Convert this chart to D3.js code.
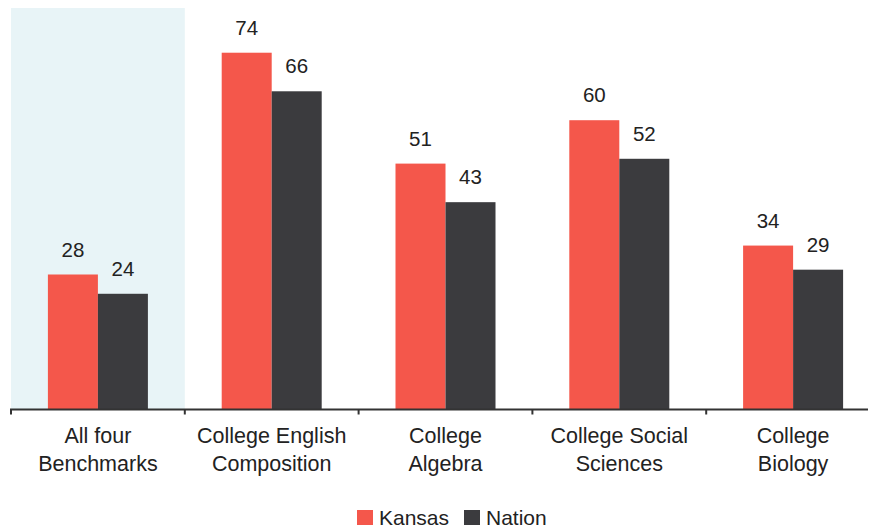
<!DOCTYPE html>
<html><head><meta charset="utf-8">
<script src="https://cdn.jsdelivr.net/npm/d3@7"></script>
<style>body{margin:0;background:#fff;} text{font-family:"Liberation Sans",Arial,sans-serif;fill:#222;}</style>
</head><body>
<svg id="c" width="874" height="531"></svg>
<script>
const categories = [["All four","Benchmarks"],["College English","Composition"],["College","Algebra"],["College Social","Sciences"],["College","Biology"]];
const seriesNames = ["Kansas","Nation"];
const kansas = [28,74,51,60,34];
const nation = [24,66,43,52,29];
const colors = {"Kansas":"#f4574b","Nation":"#3b3b3e"};

const svg = d3.select("#c");
const baseY = 409.5;
const x = d3.scaleBand().domain(d3.range(categories.length)).range([11, 880]);
const y = d3.scaleLinear().domain([0, 84]).range([baseY, 4.5]);
const inner = d3.scaleBand().domain(seriesNames).range([0, 100]);
const groupOff = (x.bandwidth() - 100) / 2;

// highlight first category
svg.append("rect").attr("x", x(0)).attr("y", 8).attr("width", x.bandwidth()).attr("height", baseY - 8).attr("fill", "#e8f4f7");

const data = categories.map((c,i)=>({i, Kansas:kansas[i], Nation:nation[i]}));
const g = svg.append("g");
seriesNames.forEach(s=>{
  g.selectAll(".b"+s).data(data).enter().append("rect")
    .attr("x", d=>x(d.i)+groupOff+inner(s)).attr("width", inner.bandwidth())
    .attr("y", d=>y(d[s])).attr("height", d=>baseY - y(d[s])).attr("fill", colors[s]);
  g.selectAll(".l"+s).data(data).enter().append("text")
    .attr("x", d=>x(d.i)+groupOff+inner(s)+inner.bandwidth()/2).attr("y", d=>y(d[s]) - 18)
    .attr("text-anchor","middle").attr("font-size", 20.5).text(d=>d[s]);
});

// axis
const axis = svg.append("g");
axis.append("line").attr("x1", 10).attr("x2", 868).attr("y1", baseY).attr("y2", baseY).attr("stroke", "#333").attr("stroke-width", 2);
axis.selectAll(".tk").data(d3.range(categories.length)).enter().append("line")
  .attr("x1", d=>x(d)).attr("x2", d=>x(d)).attr("y1", baseY).attr("y2", baseY+5).attr("stroke","#333").attr("stroke-width",2);
categories.forEach((c,i)=>{
  const t = axis.append("text").attr("text-anchor","middle").attr("font-size",21.5);
  c.forEach((line,j)=>t.append("tspan").attr("x", x(i)+x.bandwidth()/2).attr("y", 443 + j*28).text(line));
});

// legend
const lg = svg.append("g");
const legendPos = [{s:"Kansas", x:357},{s:"Nation", x:464}];
legendPos.forEach(p=>{
  lg.append("rect").attr("x", p.x).attr("y", 510).attr("width", 16).attr("height", 15).attr("fill", colors[p.s]);
  lg.append("text").attr("x", p.x+22).attr("y", 525).attr("font-size", 21).text(p.s);
});
</script>
</body></html>
